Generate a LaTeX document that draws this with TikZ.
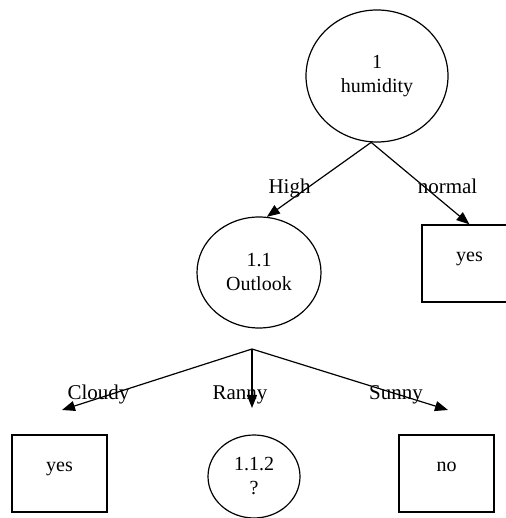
\documentclass[tikz,border=0pt]{standalone}
\usepackage{fontspec}
\setmainfont{Liberation Serif}
\usetikzlibrary{positioning, arrows.meta, shapes.geometric}

\begin{document}
\begin{tikzpicture}[->,>={Triangle[length=6.5pt,width=5pt]},line width=0.6pt,x=1pt,y=1pt,
    test/.style={ellipse,draw,inner sep=0pt,align=center},
    leaf/.style={rectangle,draw,minimum width=47.5pt,minimum height=38.5pt,inner sep=0pt,text height=6pt,text depth=8.4pt},
    lbl/.style={anchor=base,font=\fontsize{10.5}{12}\selectfont}]
    \useasboundingbox (0,0) rectangle (253,259);
    % Level 1: humidity
    \node[test,minimum width=71pt,minimum height=66pt] (hum) at (188.5,221) {1\\humidity};
    \node[test,minimum width=62pt,minimum height=55.5pt] (out) at (129.5,122.75) {1.1\\Outlook};
    \node[leaf] (yesR) at (234.75,127.25) {yes};
    % Level 2: outlook
    \node[leaf] (yesL) at (29.75,22.25) {yes};
    \node[test,minimum width=46pt,minimum height=41.5pt] (q) at (127,20.75) {1.1.2\\?};
    \node[leaf] (no) at (223.25,22.25) {no};
    \coordinate (fork) at (126,84.5);
    \coordinate (cloudyEnd) at (31,54);
    \coordinate (rannyEnd) at (126,55);
    \coordinate (sunnyEnd) at (224,54);

    % Branches
    \path (hum.-95) edge (out.82)
          (hum.-95) edge (yesR.north)
          (fork) edge (cloudyEnd)
          (fork) edge (rannyEnd)
          (fork) edge (sunnyEnd);
    % Branch labels
    \node[lbl] (high) at (144.75,162) {High};
    \node[lbl] (normal) at (223.75,162) {normal};
    \node[lbl] (cloudy) at (49.25,59) {Cloudy};
    \node[lbl] (ranny) at (120,59) {Ranny};
    \node[lbl] (sunny) at (198,59) {Sunny};
\end{tikzpicture}
\end{document}
